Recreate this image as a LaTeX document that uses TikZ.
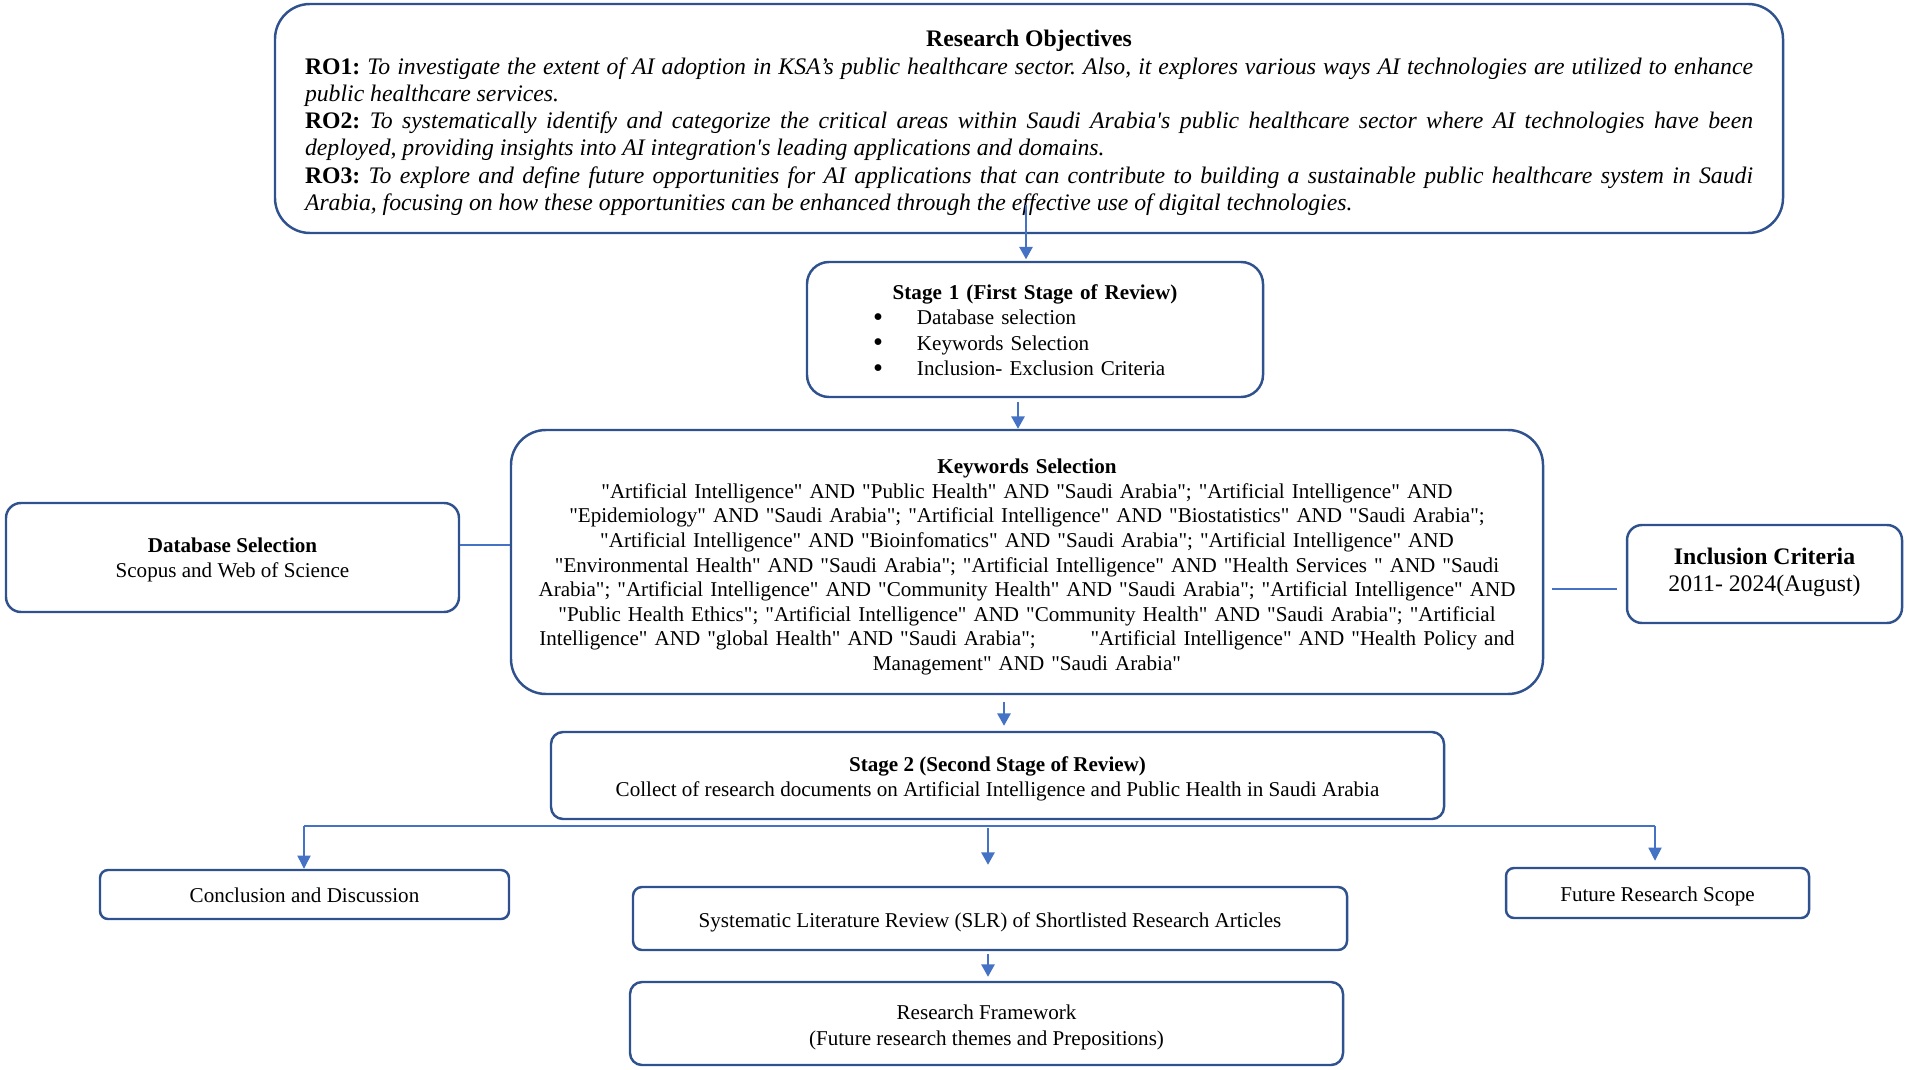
\documentclass[tikz,border=0pt]{standalone}
\usepackage{fontspec}
\setmainfont{Liberation Serif}[Ligatures=TeXOff]
\usetikzlibrary{arrows.meta}
\definecolor{boxblue}{HTML}{2F528F}
\definecolor{arrblue}{HTML}{4472C4}
\setlength{\parindent}{0pt}
\setlength{\parskip}{0pt}
\frenchspacing
\newcommand{\bigbullet}{\raisebox{-0.15ex}{\scalebox{1.35}{\textbullet}}}
\begin{document}
\begin{tikzpicture}[x=0.2mm,y=-0.2mm,
  box/.style={draw=boxblue, line width=1.4pt, rounded corners=#1, inner sep=0pt},
  txt/.style={inner sep=0pt, align=center, font=\fontsize{12}{14}\selectfont},
  arr/.style={draw=arrblue, line width=1.1pt, -{Triangle[length=7pt,width=7.5pt]}},
  conn/.style={draw=arrblue, line width=0.75pt},
  connarr/.style={draw=arrblue, line width=0.75pt, -{Triangle[length=7.5pt,width=7.5pt]}}]
\useasboundingbox (0,0) rectangle (1908,1070);

% Boxes
\node[box=7mm, minimum width=1508*0.2mm, minimum height=229*0.2mm] (ro) at (1029,118.5) {};
\node[box=4.4mm, minimum width=456*0.2mm, minimum height=135*0.2mm] (s1) at (1035,329.5) {};
\node[box=7mm, minimum width=1032*0.2mm, minimum height=264*0.2mm] (kw) at (1027,562) {};
\node[box=3mm, minimum width=453*0.2mm, minimum height=109*0.2mm] (db) at (232.5,557.5) {};
\node[box=3mm, minimum width=275*0.2mm, minimum height=98*0.2mm] (inc) at (1764.5,574) {};
\node[box=2.4mm, minimum width=893*0.2mm, minimum height=87*0.2mm] (s2) at (997.5,775.5) {};
\node[box=1.6mm, minimum width=409*0.2mm, minimum height=49*0.2mm] (conc) at (304.5,894.5) {};
\node[box=1.6mm, minimum width=303*0.2mm, minimum height=50*0.2mm] (frs) at (1657.5,893) {};
\node[box=1.8mm, minimum width=714*0.2mm, minimum height=63*0.2mm] (slr) at (990,918.5) {};
\node[box=2.4mm, minimum width=713*0.2mm, minimum height=83*0.2mm] (fw) at (986.5,1023.5) {};

% Texts
\node[txt, text width=1448*0.2mm, align=justify, font=\fontsize{13.5}{15.5}\selectfont]
  (rot) at ([yshift=-0.9mm]ro.center) {%
{\centering\bfseries Research Objectives\par}
\textbf{RO1:} \textit{To investigate the extent of AI adoption in KSA’s public healthcare sector. Also, it explores various ways AI technologies are utilized to enhance\linebreak public healthcare services.}\par
\textbf{RO2:} \textit{To systematically identify and categorize the critical areas within Saudi Arabia's public healthcare sector where AI technologies have been\linebreak deployed, providing insights into AI integration's leading applications and domains.}\par
\textbf{RO3:} \textit{To explore and define future opportunities for AI applications that can contribute to building a sustainable public healthcare system in Saudi\linebreak Arabia, focusing on how these opportunities can be enhanced through the effective use of digital technologies.}\par};

\node[txt, text width=420*0.2mm, align=left, font=\fontsize{12}{14.5}\selectfont]
  (s1t) at ([yshift=-0.3mm]s1.center) {%
\makebox[\linewidth][c]{\bfseries Stage 1 (First Stage of Review)}\\
\hspace*{9.6mm}\bigbullet\hspace{6.8mm}Database selection\\
\hspace*{9.6mm}\bigbullet\hspace{6.8mm}Keywords Selection\\
\hspace*{9.6mm}\bigbullet\hspace{6.8mm}Inclusion- Exclusion Criteria};

\node[txt, text width=1010*0.2mm] (kwt) at ([yshift=-1mm]kw.center) {%
\textbf{Keywords Selection}\\
"Artificial Intelligence" AND "Public Health" AND "Saudi Arabia"; "Artificial Intelligence" AND\\
"Epidemiology" AND "Saudi Arabia"; "Artificial Intelligence" AND "Biostatistics" AND "Saudi Arabia";\\
"Artificial Intelligence" AND "Bioinfomatics" AND "Saudi Arabia"; "Artificial Intelligence" AND\\
"Environmental Health" AND "Saudi Arabia"; "Artificial Intelligence" AND "Health Services " AND "Saudi\\
Arabia"; "Artificial Intelligence" AND "Community Health" AND "Saudi Arabia"; "Artificial Intelligence" AND\\
"Public Health Ethics"; "Artificial Intelligence" AND "Community Health" AND "Saudi Arabia"; "Artificial\\
Intelligence" AND "global Health" AND "Saudi Arabia";\hspace{2.6em}"Artificial Intelligence" AND "Health Policy and\\
Management" AND "Saudi Arabia"};

\node[txt] (dbt) at ([yshift=-0.5mm]db.center)
  {\textbf{Database Selection}\\Scopus and Web of Science};
\node[txt, font=\fontsize{13.5}{15.2}\selectfont] (inct) at ([yshift=0.4mm]inc.center)
  {\textbf{Inclusion Criteria}\\2011- 2024(August)};
\node[txt] (s2t) at ([yshift=-0.7mm]s2.center)
  {\textbf{Stage 2 (Second Stage of Review)}\\Collect of research documents on Artificial Intelligence and Public Health in Saudi Arabia};
\node[txt] (conct) at ([yshift=-0.2mm]conc.center) {Conclusion and Discussion};
\node[txt] (frst) at ([yshift=-0.7mm]frs.center) {Future Research Scope};
\node[txt] (slrt) at ([yshift=-0.7mm]slr.center)
  {Systematic Literature Review (SLR) of Shortlisted Research Articles};
\node[txt, font=\fontsize{12}{14.8}\selectfont] (fwt) at ([yshift=-0.7mm]fw.center)
  {Research Framework\\(Future research themes and Prepositions)};

% Connectors
\coordinate (roa) at (1026,205);
\draw[arr, shorten >=0.3mm] (roa) -- (roa |- s1.north);
\draw[arr, shorten <=0.8mm] (s1.south -| 1018,0) -- (kw.north -| 1018,0);
\draw[conn] (db.east |- 0,545) -- (kw.west |- 0,545);
\draw[conn, shorten <=1.6mm, shorten >=1.8mm] (kw.east |- 0,589) -- (inc.west |- 0,589);
\draw[arr, shorten <=1.4mm, shorten >=1mm] (kw.south -| 1004,0) -- (s2.north -| 1004,0);

\coordinate (bl) at (304,826);
\coordinate (br) at (1655,826);
\draw[conn] (bl) -- (br);
\draw[connarr] (bl) -- (bl |- conc.north);
\draw[connarr, shorten >=1.2mm] (br) -- (br |- frs.north);
\coordinate (bm) at (988,828);
\draw[arr, shorten >=4.2mm] (bm) -- (bm |- slr.north);
\draw[arr, shorten <=0.6mm, shorten >=0.8mm] (slr.south -| 988,0) -- (fw.north -| 988,0);
\end{tikzpicture}
\end{document}
